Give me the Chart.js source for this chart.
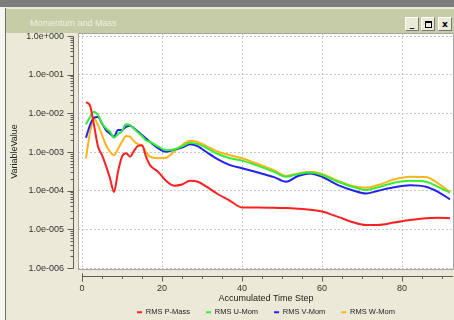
<!DOCTYPE html>
<html>
<head>
<meta charset="utf-8">
<script src="https://cdn.jsdelivr.net/npm/chart.js@4.4.1/dist/chart.umd.min.js"></script>
<style>
  html, body { margin: 0; padding: 0; }
  body {
    width: 454px; height: 320px; overflow: hidden; position: relative;
    background: #ece9d8; font-family: "Liberation Sans", Arial, sans-serif;
  }
  #topband { position: absolute; left: 0; top: 0; width: 454px; height: 7px; background: #7d7d7d; }
  #leftstrip { position: absolute; left: 0; top: 7px; width: 5px; height: 313px; background: #f6f5ef; }
  #leftline { position: absolute; left: 5px; top: 8px; width: 1px; height: 312px; background: #707070; }
  #titlebar { position: absolute; left: 6px; top: 9px; width: 448px; height: 24px; background: #c6cca6; }
  #titletext { position: absolute; left: 24px; top: 9px; font-size: 9px; line-height: 11px; color: #eef0e2; }
  .btn {
    position: absolute; top: 8px; width: 12px; height: 12px; background: #ece9d8;
    border: 1px solid; border-color: #ffffff #7a7a7a #7a7a7a #ffffff;
    font: bold 9px "DejaVu Sans", sans-serif; color: #000; text-align: center; line-height: 12px;
  }
  .box { position: absolute; left: 3px; top: 3px; width: 5px; height: 4px; border: 1px solid #000; border-top-width: 2px; }
  #chart { position: absolute; left: 0; top: 0; }
</style>
</head>
<body>
<div id="topband"></div>
<div id="leftstrip"></div>
<div id="leftline"></div>
<div id="titlebar">
  <div id="titletext">Momentum and Mass</div>
  <div class="btn" style="left:399px;">_</div>
  <div class="btn" style="left:415px;"><div class="box"></div></div>
  <div class="btn" style="left:432px;">x</div>
</div>
<canvas id="chart" width="454" height="326"></canvas>
<script>
// =========================
// DADOS
// =========================
const steps = [1, 2, 3, 4, 5, 6, 7, 8, 9, 10, 11, 12, 13, 14, 15, 16, 17, 19, 21, 23, 25, 27, 29, 31,
    34, 37, 40, 44, 48, 51, 54, 57, 60, 64, 68, 71, 74, 78, 82, 86, 89, 92];

const rmsPMass = [1.95e-2, 1.6e-2, 5.0e-3, 1.4e-3, 8.3e-4, 4.4e-4, 2.1e-4, 9.3e-5, 3.1e-4, 7.6e-4,
    9.3e-4, 7.6e-4, 1.07e-3, 1.45e-3, 1.5e-3, 7.6e-4, 4.6e-4, 3.1e-4, 1.8e-4, 1.35e-4, 1.45e-4,
    1.8e-4, 1.7e-4, 1.3e-4, 8.1e-5, 5.5e-5, 3.7e-5, 3.7e-5, 3.6e-5, 3.55e-5, 3.4e-5, 3.2e-5,
    2.9e-5, 2.1e-5, 1.5e-5, 1.3e-5, 1.3e-5, 1.5e-5, 1.75e-5, 1.95e-5, 2.0e-5, 1.95e-5];

const rmsUMom = [5.2e-3, 8.1e-3, 1.1e-2, 9.1e-3, 5.5e-3, 4.1e-3, 3.4e-3, 2.35e-3, 2.9e-3, 3.5e-3,
    5.2e-3, 5.0e-3, 4.0e-3, 3.2e-3, 2.6e-3, 2.0e-3, 1.85e-3, 1.4e-3, 1.12e-3, 1.17e-3, 1.4e-3,
    1.75e-3, 1.6e-3, 1.3e-3, 8.9e-4, 6.9e-4, 6.0e-4, 4.4e-4, 3.1e-4, 2.3e-4, 2.7e-4, 2.95e-4,
    2.55e-4, 1.7e-4, 1.23e-4, 1.05e-4, 1.23e-4, 1.6e-4, 1.8e-4, 1.7e-4, 1.26e-4, 8.9e-5];

const rmsVMom = [2.35e-3, 5.0e-3, 7.8e-3, 8.1e-3, 5.5e-3, 3.7e-3, 3.0e-3, 2.5e-3, 3.7e-3, 3.7e-3,
    4.5e-3, 4.8e-3, 4.1e-3, 3.4e-3, 2.75e-3, 2.25e-3, 1.85e-3, 1.26e-3, 1.02e-3, 1.15e-3, 1.3e-3,
    1.6e-3, 1.4e-3, 1.02e-3, 6.5e-4, 4.6e-4, 3.8e-4, 2.95e-4, 2.25e-4, 1.7e-4, 2.4e-4, 2.8e-4,
    2.3e-4, 1.4e-4, 1.0e-4, 8.5e-5, 1.0e-4, 1.23e-4, 1.38e-4, 1.26e-4, 9.3e-5, 6.0e-5];

const rmsWMom = [6.9e-4, 3.2e-3, 7.4e-3, 5.0e-3, 2.75e-3, 1.5e-3, 1.02e-3, 8.3e-4, 1.2e-3, 1.85e-3,
    2.6e-3, 2.5e-3, 1.9e-3, 1.6e-3, 1.5e-3, 9.8e-4, 7.6e-4, 6.9e-4, 7.1e-4, 1.02e-3, 1.5e-3,
    1.95e-3, 1.8e-3, 1.45e-3, 1.02e-3, 8.3e-4, 6.9e-4, 4.9e-4, 3.4e-4, 2.4e-4, 2.8e-4, 3.1e-4,
    2.7e-4, 1.8e-4, 1.3e-4, 1.2e-4, 1.4e-4, 1.95e-4, 2.3e-4, 2.25e-4, 1.55e-4, 9.3e-5];

const seriesNames = ['RMS P-Mass', 'RMS U-Mom', 'RMS V-Mom', 'RMS W-Mom'];
const seriesColors = ['#ff1f1f', '#33ee33', '#2222ee', '#ffb41e'];

const xTickValues = [0, 20, 40, 60, 80];
const xMinorStep = 5;
const yTickValues = [1, 1e-1, 1e-2, 1e-3, 1e-4, 1e-5, 1e-6];
const yTickLabels = ['1.0e+000', '1.0e-001', '1.0e-002', '1.0e-003', '1.0e-004', '1.0e-005', '1.0e-006'];

// limites do eixo (um pouco além das décadas, como no original)
const xMin = -1;
const xMax = 93;
const yMin = 8.9e-7;
const yMax = 1.2;

const FONT = '"Liberation Sans", Arial, sans-serif';

// ========================
// MOLDURA / EIXOS DESTACADOS
// ========================
function hline(ctx, x1, x2, y) {
    ctx.beginPath();
    ctx.moveTo(x1, y);
    ctx.lineTo(x2, y);
    ctx.stroke();
}

function vline(ctx, x, y1, y2) {
    ctx.beginPath();
    ctx.moveTo(x, y1);
    ctx.lineTo(x, y2);
    ctx.stroke();
}

const framePlugin = {
    id: 'frame',
    beforeDraw(chart) {
        const { ctx, chartArea: a } = chart;
        ctx.save();
        ctx.fillStyle = '#ffffff';
        ctx.fillRect(a.left, a.top, a.right - a.left, a.bottom - a.top);
        ctx.restore();
    },
    afterDraw(chart) {
        const { ctx, chartArea: a } = chart;
        const xs = chart.scales.x;
        const ys = chart.scales.y;
        const px = v => Math.round(xs.getPixelForValue(v)) + 0.5;
        const py = v => Math.round(ys.getPixelForValue(v)) + 0.5;

        ctx.save();
        ctx.lineWidth = 1;

        // borda da área do gráfico
        ctx.strokeStyle = '#a4a4a4';
        ctx.strokeRect(a.left + 0.5, a.top + 0.5, a.right - a.left - 1, a.bottom - a.top - 1);

        ctx.strokeStyle = '#5c5c5c';

        // eixo Y
        const ax = a.left - 4.5;
        vline(ctx, ax, py(yTickValues[0]), py(yTickValues[yTickValues.length - 1]));
        yTickValues.forEach(v => hline(ctx, ax - 6, ax, py(v)));
        for (let i = 1; i < yTickValues.length; i++) {
            for (let k = 2; k <= 9; k++) {
                hline(ctx, ax - 3, ax, py(k * yTickValues[i]));
            }
        }

        // eixo X
        const ay = a.bottom + 6.5;
        hline(ctx, px(xTickValues[0]), a.right - 1, ay);
        vline(ctx, px(xTickValues[0]), ay - 3, ay + 5);
        for (let v = xTickValues[0]; v <= xMax; v += xMinorStep) {
            const major = xTickValues.includes(v);
            vline(ctx, px(v), ay, ay + (major ? 5 : 2.5));
        }

        ctx.restore();
    }
};

// ========================
// GRÁFICO
// ========================
const allSeries = [rmsPMass, rmsUMom, rmsVMom, rmsWMom];

const datasets = allSeries.map((values, i) => ({
    label: seriesNames[i],
    data: steps.map((s, j) => ({ x: s, y: values[j] })),
    borderColor: seriesColors[i],
    backgroundColor: seriesColors[i],
    borderWidth: 2,
    pointRadius: 0,
    cubicInterpolationMode: 'monotone',
    fill: false
}));

new Chart(document.getElementById('chart'), {
    type: 'line',
    data: { datasets },
    options: {
        responsive: false,
        animation: false,
        devicePixelRatio: 1,
        events: [],
        layout: { padding: { top: 33, left: 6, right: 0, bottom: 0 } },
        plugins: {
            legend: {
                position: 'bottom',
                fullSize: false,
                labels: {
                    boxWidth: 5,
                    boxHeight: 2,
                    padding: 16,
                    color: '#222',
                    font: { family: FONT, size: 7.5 },
                    generateLabels: chart =>
                        Chart.defaults.plugins.legend.labels.generateLabels(chart)
                            .map(l => ({ ...l, lineWidth: 0 }))
                }
            },
            tooltip: { enabled: false }
        },
        scales: {
            x: {
                type: 'linear',
                min: xMin,
                max: xMax,
                bounds: 'data',
                afterBuildTicks: s => { s.ticks = xTickValues.map(v => ({ value: v })); },
                afterFit: s => { s.height = 22.5; s.paddingLeft = 0; s.paddingRight = 0; },
                grid: { color: '#c8c8c8', drawTicks: false },
                border: { display: false, dash: [2, 2] },
                ticks: {
                    padding: 13, color: '#333', autoSkip: false, maxRotation: 0,
                    font: { family: FONT, size: 9 }
                },
                title: {
                    display: true, text: 'Accumulated Time Step', color: '#222',
                    font: { family: FONT, size: 9, lineHeight: 1 },
                    padding: { top: 0, bottom: -11 }
                }
            },
            y: {
                type: 'logarithmic',
                min: yMin,
                max: yMax,
                bounds: 'data',
                afterBuildTicks: s => { s.ticks = yTickValues.map(v => ({ value: v })); },
                afterFit: s => { s.width = 72; s.paddingTop = 0; s.paddingBottom = 0; },
                grid: { color: '#c8c8c8', drawTicks: false },
                border: { display: false, dash: [2, 2] },
                ticks: {
                    padding: 14, color: '#333', autoSkip: false,
                    font: { family: FONT, size: 9 },
                    callback: (v, i) => yTickLabels[i]
                },
                title: {
                    display: true, text: 'VariableValue', color: '#222',
                    font: { family: FONT, size: 9, lineHeight: 1 },
                    padding: { top: 4, bottom: 0 }
                }
            }
        }
    },
    plugins: [framePlugin]
});
</script>
</body>
</html>
